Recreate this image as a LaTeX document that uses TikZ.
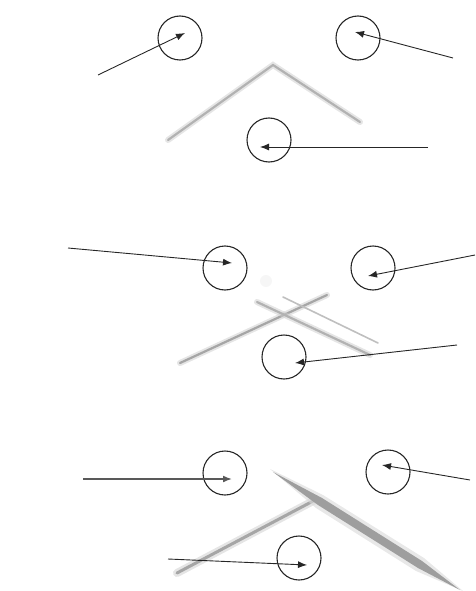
\documentclass[tikz,border=0pt]{standalone}
\usetikzlibrary{arrows.meta,calc}

\begin{document}
\begin{tikzpicture}[x=1pt, y=-1pt,
    ring/.style={circle, draw=black!85, line width=1.1pt, minimum size=44pt, inner sep=0pt},
    arrow/.style={draw, line width=0.9pt, -{Latex[length=9pt,width=7pt]}, color=black!85},
    haze/.style={draw=black!20, line width=6pt, line cap=round, opacity=0.5},
    streak/.style={draw=black!35, line width=2.2pt, line cap=round}
]
    \useasboundingbox (0,0) rectangle (476,591);

    % top panel
    \draw[haze] (168,140) -- (273,65) -- (360,122);
    \draw[streak, draw=black!30] (168,140) -- (273,65) -- (360,122);
    \node[ring] (c1a) at (180,38) {};
    \node[ring] (c1b) at (358,38) {};
    \node[ring] (c1c) at (269,140) {};
    \coordinate (t1a) at (98,75);
    \coordinate (t1b) at (453,58);
    \coordinate (t1c) at (428,147);
    \path [arrow] (t1a) -- ([shift={(5,-5)}]c1a.center);
    \path [arrow] (t1b) -- ([shift={(-3,-6)}]c1b.center);
    \path [arrow] (t1c) -- ([shift={(-9,7)}]c1c.center);

    % middle panel
    \fill[black!6, opacity=0.6] (266,281) circle (6pt);
    \draw[haze] (180,363) -- (327,295);
    \draw[streak] (180,363) -- (327,295);
    \draw[haze] (257,302) -- (370,355);
    \draw[streak, draw=black!30] (257,302) -- (370,355);
    \draw[streak, draw=black!25, line width=1.6pt] (283,297) -- (378,343);
    \node[ring] (c2a) at (225,268) {};
    \node[ring] (c2b) at (373,268) {};
    \node[ring] (c2c) at (284,357) {};
    \coordinate (t2a) at (68,248);
    \coordinate (t2b) at (475,255);
    \coordinate (t2c) at (457,345);
    \path [arrow] (t2a) -- ([shift={(7,-5)}]c2a.center);
    \path [arrow] (t2b) -- ([shift={(-5,8)}]c2b.center);
    \path [arrow] (t2c) -- ([shift={(11,6)}]c2c.center);

    % bottom panel
    \draw[haze, line width=8pt] (177,573) -- (315,500);
    \draw[streak, line width=3pt] (177,573) -- (315,500);
    \fill[black!15, opacity=0.6] (270,469) -- (323,495) -- (424,558) -- (463,591) -- (416,571) -- (316,508) -- cycle;
    \fill[black!38] (273,472) -- (322,498) -- (422,561) -- (460,590) -- (418,568) -- (318,505) -- cycle;
    \node[ring] (c3a) at (225,473) {};
    \node[ring] (c3b) at (388,472) {};
    \node[ring] (c3c) at (299,558) {};
    \coordinate (t3a) at (83,479);
    \coordinate (t3b) at (470,480);
    \coordinate (t3c) at (168,559);
    \path [arrow, line width=1.6pt, draw=black!65] (t3a) -- ([shift={(7,6)}]c3a.center);
    \path [arrow] (t3b) -- ([shift={(-6,-7)}]c3b.center);
    \path [arrow] (t3c) -- ([shift={(8,7)}]c3c.center);
\end{tikzpicture}
\end{document}
